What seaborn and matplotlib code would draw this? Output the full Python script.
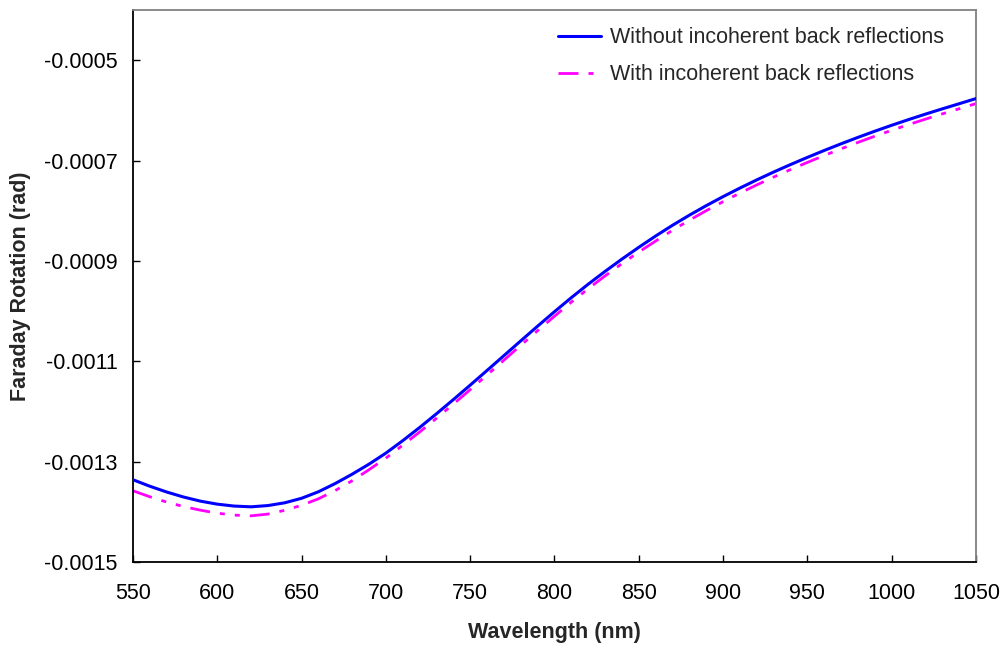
import numpy as np
import pandas as pd
import matplotlib
matplotlib.use("Agg")
import matplotlib.pyplot as plt
import seaborn as sns

wavelength = [550, 560, 570, 580, 590, 600, 610, 620, 630, 640, 650,
              660, 670, 680, 690, 700, 710, 720, 730, 740, 750,
              760, 770, 780, 790, 800, 810, 820, 830, 840, 850,
              860, 870, 880, 890, 900, 910, 920, 930, 940, 950,
              960, 970, 980, 990, 1000, 1010, 1020, 1030, 1040, 1050]
without_reflections = [
    -0.0013360, -0.0013490, -0.0013605, -0.0013705, -0.0013787, -0.0013847,
    -0.0013885, -0.0013900, -0.0013875, -0.0013820, -0.0013730,
    -0.0013600, -0.0013435, -0.0013250, -0.0013050, -0.0012830,
    -0.0012582, -0.0012320, -0.0012046, -0.0011764, -0.0011476,
    -0.0011183, -0.0010888, -0.0010593, -0.0010300, -0.0010012,
    -0.0009732, -0.0009464, -0.0009209, -0.0008964, -0.0008729,
    -0.0008504, -0.0008290, -0.0008089, -0.0007899, -0.0007719,
    -0.0007548, -0.0007385, -0.0007229, -0.0007080, -0.0006937,
    -0.0006799, -0.0006666, -0.0006538, -0.0006415, -0.0006297,
    -0.0006184, -0.0006075, -0.0005970, -0.0005868, -0.0005765]
with_reflections = [
    -0.0013580, -0.0013700, -0.0013805, -0.0013895, -0.0013967, -0.0014027,
    -0.0014065, -0.0014080, -0.0014045, -0.0013970, -0.0013870,
    -0.0013740, -0.0013575, -0.0013380, -0.0013160, -0.0012930,
    -0.0012672, -0.0012410, -0.0012136, -0.0011854, -0.0011566,
    -0.0011273, -0.0010978, -0.0010683, -0.0010390, -0.0010102,
    -0.0009822, -0.0009554, -0.0009299, -0.0009054, -0.0008824,
    -0.0008604, -0.0008390, -0.0008189, -0.0007999, -0.0007819,
    -0.0007648, -0.0007485, -0.0007329, -0.0007180, -0.0007037,
    -0.0006899, -0.0006766, -0.0006638, -0.0006515, -0.0006397,
    -0.0006284, -0.0006175, -0.0006070, -0.0005968, -0.0005865]
labels = ["Without incoherent back reflections", "With incoherent back reflections"]
x_ticks = [550, 600, 650, 700, 750, 800, 850, 900, 950, 1000, 1050]
y_ticks = [-0.0015, -0.0013, -0.0011, -0.0009, -0.0007, -0.0005]

sns.set_theme(style="white")
plt.rcParams['font.family'] = ['Liberation Sans', 'DejaVu Sans']

df = pd.DataFrame({"wl": wavelength, "a": without_reflections, "b": with_reflections})

fig = plt.figure(figsize=(10.02, 6.46), dpi=100)
ax = fig.add_axes([0.1327, 0.130, 0.8413, 0.8545])

sns.lineplot(data=df, x="wl", y="a", ax=ax, color="#0000FF", linewidth=2.2,
             label=labels[0], zorder=3)
sns.lineplot(data=df, x="wl", y="b", ax=ax, color="#FF00FF", linewidth=2.0,
             label=labels[1], zorder=2,
             linestyle=(0, (7.2, 3.6, 1.8, 3.6, 1.8, 3.6)))

ax.set_xlim(550, 1050)
ax.set_ylim(-0.0015, -0.0004)
ax.set_xticks(x_ticks)
ax.set_yticks(y_ticks)
ax.set_yticklabels([f"{v:.4f}" for v in y_ticks])
ax.tick_params(axis="both", which="major", direction="in", length=5, width=1,
               labelsize=15.5, color="#000000", labelcolor="#000000")
ax.tick_params(axis="x", pad=15, bottom=True, top=False)
ax.tick_params(axis="y", pad=11, left=True, right=False)

ax.set_xlabel("Wavelength (nm)", fontsize=15.5, fontweight="bold", labelpad=13)
ax.set_ylabel("Faraday Rotation (rad)", fontsize=15.5, fontweight="bold", labelpad=9)

for side in ["left", "bottom"]:
    ax.spines[side].set_color("#000000")
    ax.spines[side].set_linewidth(1.3)
for side in ["top", "right"]:
    ax.spines[side].set_color("#808080")
    ax.spines[side].set_linewidth(1.3)

leg = ax.legend(loc="upper right", frameon=False, fontsize=15.5,
                handlelength=2.0, handletextpad=0.4, labelspacing=0.75,
                bbox_to_anchor=(0.985, 1.004))

fig.savefig("out.png", dpi=100)
